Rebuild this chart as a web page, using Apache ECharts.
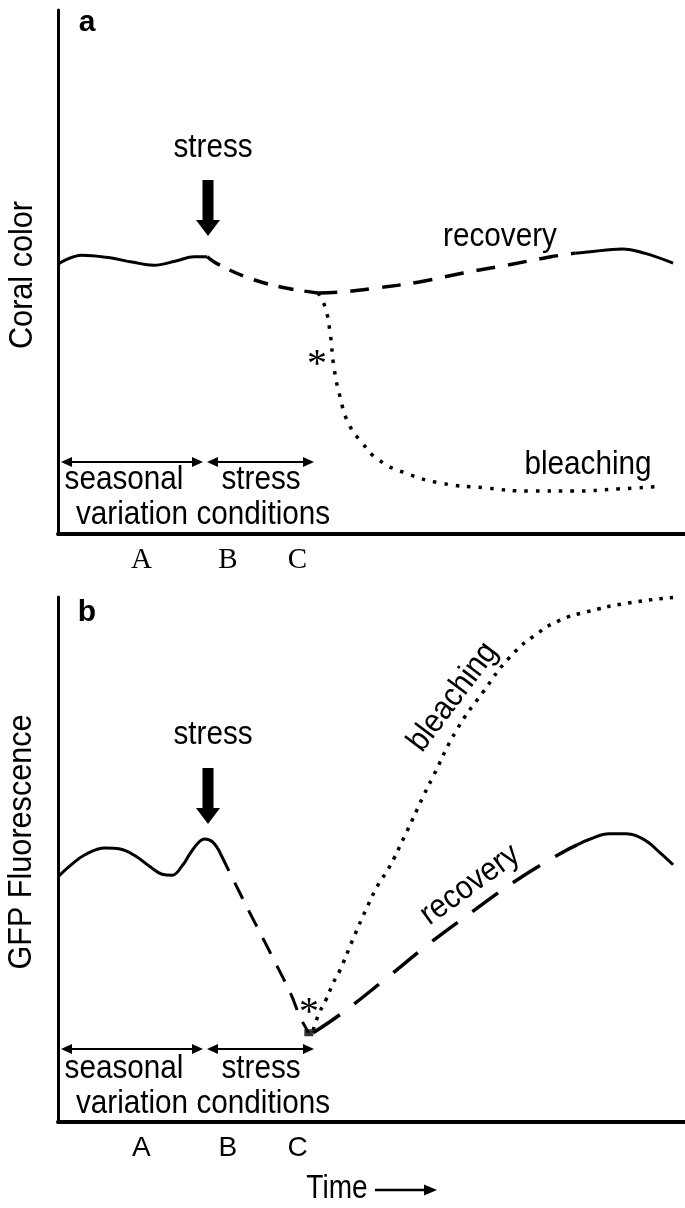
<!DOCTYPE html>
<html>
<head>
<meta charset="utf-8">
<script src="https://cdn.jsdelivr.net/npm/echarts@6/dist/echarts.min.js"></script>
<style>
  html, body { margin: 0; padding: 0; background: #fff; }
  #chart { width: 685px; height: 1208px; }
</style>
</head>
<body>
<div id="chart"></div>
<script>
// time runs 0..100, signal runs 0..100 in both panels

// panel a : coral color
const seasonA = [[0, 51.5], [3.8, 53.2], [8.3, 52.7], [11.8, 51.9], [15.3, 51.3], [18.8, 52.1], [21.7, 52.9], [23.8, 52.9]];
const stressA = [[23.8, 52.9], [25.2, 51.7], [30.1, 49.0], [35.7, 47.1], [41.5, 46.0]];
const recoverA = [[41.5, 46.0], [45.5, 46.2], [50.6, 46.9], [57.6, 48.1], [64.6, 49.8], [71.6, 51.3], [78.6, 52.9], [82.5, 53.6]];
const recoverSolidA = [[82.5, 53.6], [84.4, 53.8], [90.0, 54.4], [93.5, 53.6], [98.1, 51.7]];
const bleachA = [[41.5, 46.0], [42.6, 43.3], [43.4, 38.4], [44.0, 31.9], [45.0, 26.1], [46.3, 21.2], [48.5, 17.4], [51.2, 14.1],
  [55.5, 11.6], [61.1, 9.7], [68.1, 8.8], [75.1, 8.2], [82.1, 8.2], [89.3, 8.6], [95.2, 9.0]];

// panel b : GFP fluorescence
const seasonB = [[0, 46.7], [1.9, 48.8], [4.3, 50.9], [7.5, 52.2], [9.9, 52.0], [12.3, 50.7], [14.7, 48.6], [16.6, 47.2],
  [18.2, 47.0], [19.8, 48.8], [21.1, 51.2], [22.3, 53.1], [23.4, 53.9], [24.7, 53.3], [26.0, 50.9]];
const stressB = [[26.0, 50.9], [29.3, 42.9], [31.6, 37.5], [34.3, 31.2], [37.2, 24.2], [38.6, 20.0], [40.0, 17.0]];
const bleachB = [[40.7, 17.5], [41.6, 20.6], [42.7, 23.2], [43.9, 26.5], [45.0, 29.0], [47.0, 34.7], [49.1, 40.4], [51.2, 45.5],
  [52.6, 48.0], [55.5, 55.0], [58.2, 61.9], [59.7, 65.5], [63.6, 74.7], [67.8, 81.9], [72.1, 88.6], [76.4, 93.0],
  [80.1, 95.6], [84.1, 97.1], [90.6, 98.8], [98.1, 99.9]];
const recoverB = [[40.7, 17.0], [45.6, 21.0], [52.6, 27.6], [58.9, 33.7], [66.0, 40.0], [73.2, 46.1], [80.5, 51.4], [82.8, 52.8]];
const recoverSolidB = [[82.8, 52.8], [84.9, 53.9], [87.9, 54.9], [90.6, 54.9], [93.6, 53.7], [95.9, 51.4], [98.1, 49.0]];
const branchB = [[40.0, 17.0]];

// time tick labels
const tickLabels = ['A', 'B', 'C'];
const tickPos = [13.3, 27.1, 38.2];

const SANS = 'Liberation Sans, Arial, sans-serif';
const SERIF = 'Liberation Serif, Times New Roman, serif';

const chart = echarts.init(document.getElementById('chart'));

function line(gi, data, width, dash, smooth) {
    return {
        type: 'line',
        xAxisIndex: gi,
        yAxisIndex: gi,
        data: data,
        showSymbol: false,
        smooth: smooth || 0.4,
        clip: false,
        silent: true,
        lineStyle: { color: '#000', width: width, type: dash || 'solid', cap: 'butt' }
    };
}

function xAx(gi, font, size) {
    return {
        gridIndex: gi, type: 'value', min: 0, max: 100,
        axisLine: { show: true, onZero: false, lineStyle: { color: '#000', width: 4 } },
        axisTick: { show: false },
        splitLine: { show: false },
        axisLabel: {
            customValues: tickPos,
            formatter: v => tickLabels[tickPos.indexOf(v)],
            color: '#000', fontFamily: font, fontSize: size, margin: 12
        }
    };
}

function yAx(gi) {
    return {
        gridIndex: gi, type: 'value', min: 0, max: 100,
        axisLine: { show: true, onZero: false, lineStyle: { color: '#000', width: 3 } },
        axisTick: { show: false },
        axisLabel: { show: false },
        splitLine: { show: false }
    };
}

function txt(x, y, s, o) {
    o = o || {};
    return {
        type: 'text', x: x, y: y,
        rotation: o.rot || 0,
        scaleX: o.sx || 0.9,
        style: {
            text: s,
            fontFamily: o.font || SANS,
            fontSize: o.size || 33,
            fontWeight: o.weight || 'normal',
            fill: '#000',
            textAlign: 'center',
            textVerticalAlign: 'middle'
        }
    };
}

function downArrow(x, top, tip) {
    return [
        { type: 'rect', shape: { x: x - 5.5, y: top, width: 11, height: tip - top - 12 }, style: { fill: '#000' } },
        { type: 'polygon', shape: { points: [[x - 12, tip - 16], [x + 12, tip - 16], [x, tip]] }, style: { fill: '#000' } }
    ];
}

function span(x1, x2, y) {
    return [
        { type: 'line', shape: { x1: x1 + 6, y1: y, x2: x2 - 6, y2: y }, style: { stroke: '#000', lineWidth: 2 } },
        { type: 'polygon', shape: { points: [[x1, y], [x1 + 11, y - 5], [x1 + 11, y + 5]] }, style: { fill: '#000' } },
        { type: 'polygon', shape: { points: [[x2, y], [x2 - 11, y - 5], [x2 - 11, y + 5]] }, style: { fill: '#000' } }
    ];
}

const deg = Math.PI / 180;

const graphics = [].concat(
    // panel a
    txt(87, 23, 'a', { weight: 'bold', size: 30, sx: 1 }),
    txt(23, 275, 'Coral color', { rot: 90 * deg, size: 34 }),
    txt(213, 148, 'stress'),
    downArrow(208, 180, 236),
    txt(500, 237, 'recovery'),
    txt(317, 365, '*', { font: SERIF, size: 40, sx: 1 }),
    txt(588, 465, 'bleaching'),
    span(61, 203, 462),
    span(207, 314, 462),
    txt(124, 480, 'seasonal'),
    txt(261, 480, 'stress'),
    txt(203, 515, 'variation conditions'),
    // panel b
    txt(87, 613, 'b', { weight: 'bold', size: 30, sx: 1 }),
    txt(22, 842, 'GFP Fluorescence', { rot: 90 * deg, size: 34 }),
    txt(213, 735, 'stress'),
    downArrow(208, 768, 824),
    txt(453, 697, 'bleaching', { rot: 53 * deg }),
    txt(470, 885, 'recovery', { rot: 36 * deg }),
    txt(309, 1013, '*', { font: SERIF, size: 40, sx: 1 }),
    span(61, 203, 1049),
    span(207, 314, 1049),
    txt(124, 1069, 'seasonal'),
    txt(261, 1069, 'stress'),
    txt(203, 1104, 'variation conditions'),
    txt(337, 1189, 'Time', { sx: 0.85 }),
    { type: 'line', shape: { x1: 375, y1: 1190, x2: 428, y2: 1190 }, style: { stroke: '#000', lineWidth: 2.5 } },
    { type: 'polygon', shape: { points: [[437, 1190], [424, 1184.5], [424, 1195.5]] }, style: { fill: '#000' } }
);

chart.setOption({
    animation: false,
    backgroundColor: '#fff',
    grid: [
        { left: 58, right: 0, top: 10, height: 524 },
        { left: 58, right: 0, top: 597, height: 525 }
    ],
    xAxis: [xAx(0, SERIF, 29), xAx(1, SANS, 28)],
    yAxis: [yAx(0), yAx(1)],
    series: [
        line(0, seasonA, 3),
        line(0, stressA, 3.5, [15, 11]),
        line(0, recoverA, 3.5, [19, 13]),
        line(0, recoverSolidA, 3),
        line(0, bleachA, 3.5, [3.5, 8], 0.5),
        line(1, seasonB, 3),
        line(1, stressB, 3, [18, 13]),
        line(1, bleachB, 3.5, [3.5, 7], 0.5),
        line(1, recoverB, 3.5, [32, 18]),
        line(1, recoverSolidB, 3),
        {
            type: 'scatter', xAxisIndex: 1, yAxisIndex: 1, data: branchB,
            symbol: 'rect', symbolSize: [9, 7], itemStyle: { color: '#000' }, silent: true
        }
    ],
    graphic: graphics
});
</script>
</body>
</html>
